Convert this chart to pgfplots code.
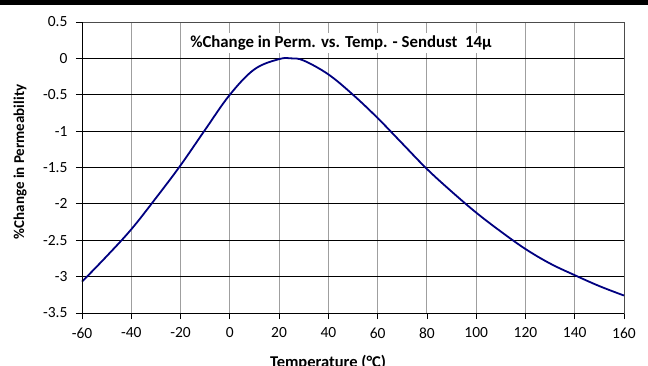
\documentclass[border=0pt]{standalone}
\usepackage{pgfplots}
\pgfplotsset{compat=1.18}
\usepackage{fontspec}
\setmainfont{Carlito}
\definecolor{curve}{RGB}{0,0,128}
\begin{document}
\begin{tikzpicture}[x=1pt,y=1pt]
\fill[black] (0,360) rectangle (648,365);
\begin{axis}[
  at={(82pt,52pt)}, anchor=south west,
  scale only axis, width=542pt, height=291pt,
  xmin=-60, xmax=160, ymin=-3.5, ymax=0.5,
  xtick={-60,-40,...,160}, ytick={-3.5,-3,...,0.5},
  yticklabels={-3.5,-3,-2.5,-2,-1.5,-1,-0.5,0,0.5},
  /pgf/number format/assume math mode=true,
  grid=major,
  major x grid style={gray!75, line width=0.9pt},
  major y grid style={black, line width=0.8pt},
  axis line style={gray!60!black, line width=0.9pt},
  tick style={black, line width=0.8pt},
  tick align=outside, major tick length=6pt,
  xtick pos=bottom, ytick pos=left,
  ticklabel style={font=\fontsize{15.5}{17}\selectfont},
  yticklabel style={xshift=-5pt},
  xticklabel style={yshift=-5pt},
  xlabel={\textbf{Temperature (°C)}},
  ylabel={\textbf{\%Change in Permeability}},
  xlabel style={font=\fontsize{16.5}{18}\selectfont, at={(axis description cs:0.454,0)}, anchor=north, yshift=-39pt},
  ylabel style={font=\fontsize{15}{17}\selectfont, at={(axis description cs:-0.114,0.519)}, anchor=center, rotate=0},
  clip=false,
]
\addplot[curve, line width=1.8pt, smooth, tension=0.6] coordinates {
(-60,-3.07) (-50,-2.72) (-40,-2.35) (-30,-1.92) (-20,-1.47) (-10,-0.98)
(0,-0.50) (10,-0.15) (20,-0.01) (25,0.0) (30,-0.03) (40,-0.22) (50,-0.50)
(60,-0.82) (70,-1.17) (80,-1.52) (90,-1.83) (100,-2.12) (110,-2.38)
(120,-2.62) (130,-2.82) (140,-2.98) (150,-3.13) (160,-3.26)
};
\draw[black, line width=0.9pt] (rel axis cs:0,0) -- (rel axis cs:0,1);
\draw[black, line width=0.9pt] (rel axis cs:0,0) -- (rel axis cs:1,0);
\node[fill=white, inner xsep=7pt, inner ysep=3pt, font=\fontsize{16.8}{18}\selectfont\bfseries]
  at (axis cs:45.1,0.211) {\%Change in Perm. vs. Temp. - Sendust\ \ 14µ};
\end{axis}
\pgfresetboundingbox
\useasboundingbox (0,0) rectangle (648,365);
\end{tikzpicture}
\end{document}
